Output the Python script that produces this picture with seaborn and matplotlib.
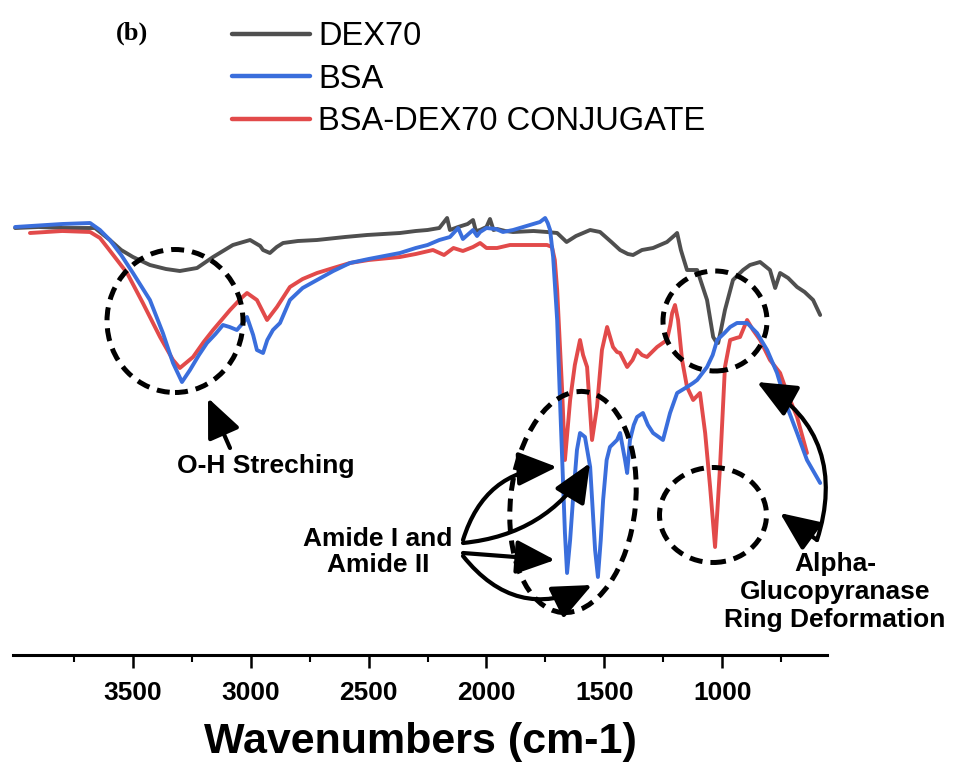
import numpy as np
import pandas as pd
import matplotlib
matplotlib.use("Agg")
import matplotlib.pyplot as plt
import seaborn as sns
from matplotlib.patches import Ellipse, FancyArrowPatch
from matplotlib.path import Path
from matplotlib.lines import Line2D

# ---------------- data (wavenumber cm-1, transmittance in arbitrary units) ----------------
labels = ["DEX70", "BSA", "BSA-DEX70 CONJUGATE"]
colors = ["#4f4f4f", "#3a6edc", "#e24a4a"]

dex_wn = [4000, 3900, 3800, 3661, 3598, 3550, 3500, 3428, 3360, 3301, 3228, 3160, 3076, 3003,
          2960, 2948, 2919, 2890, 2863, 2800, 2719, 2600, 2507, 2367, 2300, 2250, 2200, 2167,
          2155, 2120, 2080, 2057, 2045, 2027, 2000, 1985, 1970, 1955, 1920, 1887, 1800, 1743,
          1700, 1660, 1620, 1560, 1518, 1470, 1433, 1400, 1378, 1340, 1293, 1234, 1200, 1191,
          1175, 1166, 1149, 1106, 1064, 1038, 1025, 1017, 1005, 988, 954, 911, 882, 839, 797,
          775, 754, 720, 682, 650, 614, 584]
dex_t = [432, 433, 432, 432, 420, 410, 403, 395, 391, 389, 392, 403, 415, 420,
         414, 410, 407, 413, 417, 419, 420, 423, 425, 427, 429, 430, 432, 442,
         430, 433, 436, 440, 429, 430, 433, 441, 430, 431, 429, 428, 429, 428,
         427, 418, 424, 430, 428, 418, 410, 406, 405, 410, 412, 418, 425, 427,
         410, 403, 390, 390, 360, 323, 318, 317, 330, 350, 380, 390, 395, 398, 390,
         372, 387, 382, 373, 368, 360, 345]

bsa_wn = [4000, 3800, 3682, 3640, 3598, 3550, 3500, 3428, 3373, 3330, 3292, 3258, 3220, 3186,
          3150, 3118, 3090, 3059, 3030, 3016, 2990, 2974, 2948, 2930, 2906, 2876, 2834, 2780,
          2719, 2650, 2579, 2500, 2367, 2300, 2250, 2200, 2155, 2120, 2100, 2057, 2040, 2027,
          2000, 1960, 1930, 1887, 1830, 1773, 1751, 1740, 1730, 1717, 1700, 1688, 1667, 1658,
          1645, 1633, 1616, 1603, 1582, 1560, 1539, 1527, 1515, 1505, 1490, 1476, 1446, 1433,
          1412, 1403, 1391, 1375, 1361, 1336, 1315, 1293, 1251, 1221, 1191, 1149, 1123, 1106,
          1064, 1040, 1021, 990, 966, 937, 894, 852, 809, 767, 724, 682, 640, 584]
bsa_t = [433, 436, 437, 430, 420, 405, 387, 360, 327, 297, 278, 290, 305, 317,
         326, 335, 333, 330, 338, 343, 325, 310, 307, 320, 330, 337, 360, 372,
         380, 389, 397, 401, 407, 412, 415, 420, 423, 432, 421, 430, 424, 428,
         432, 431, 428, 430, 434, 438, 442, 437, 430, 403, 340, 260, 127, 87,
         120, 160, 210, 227, 223, 193, 110, 83, 120, 160, 200, 213, 220, 227,
         200, 187, 220, 235, 243, 247, 235, 227, 220, 247, 267, 273, 277, 280,
         293, 305, 320, 327, 333, 337, 337, 327, 310, 287, 253, 227, 200, 177]

conj_wn = [3937, 3800, 3682, 3640, 3610, 3525, 3458, 3385, 3330, 3301, 3245, 3200, 3160, 3088,
           3040, 3016, 2974, 2931, 2889, 2834, 2780, 2719, 2650, 2579, 2500, 2367, 2300, 2227,
           2180, 2140, 2100, 2057, 2027, 2000, 1955, 1900, 1800, 1743, 1722, 1710, 1700, 1679,
           1667, 1645, 1625, 1603, 1590, 1573, 1552, 1531, 1510, 1488, 1463, 1446, 1433, 1403,
           1380, 1361, 1340, 1319, 1276, 1234, 1220, 1212, 1200, 1187, 1170, 1149, 1123, 1094,
           1072, 1051, 1030, 1020, 1009, 988, 966, 940, 924, 894, 869, 839, 797, 754, 724,
           682, 640]
conj_t = [427, 429, 428, 422, 413, 387, 357, 323, 300, 292, 303, 318, 330, 350,
          362, 367, 360, 340, 353, 373, 381, 387, 392, 397, 400, 403, 406, 410,
          405, 412, 409, 413, 417, 412, 412, 415, 415, 415, 413, 400, 370, 270,
          200, 260, 295, 320, 305, 293, 220, 253, 310, 333, 313, 308, 307, 293,
          300, 310, 305, 303, 313, 320, 335, 347, 355, 340, 300, 273, 260, 267,
          227, 173, 113, 150, 193, 293, 320, 322, 323, 340, 330, 320, 300, 287, 267,
          243, 207]

major_ticks = [3500, 3000, 2500, 2000, 1500, 1000]
minor_ticks = [3750, 3250, 2750, 2250, 1750, 1250, 750]

df = pd.concat([
    pd.DataFrame({"wn": dex_wn, "T": dex_t, "sample": labels[0]}),
    pd.DataFrame({"wn": bsa_wn, "T": bsa_t, "sample": labels[1]}),
    pd.DataFrame({"wn": conj_wn, "T": conj_t, "sample": labels[2]}),
], ignore_index=True)

# ---------------- style ----------------
sns.set_style("white")
plt.rcParams["font.family"] = ["Liberation Sans", "DejaVu Sans"]
plt.rcParams["text.color"] = "black"
plt.rcParams["axes.labelcolor"] = "black"
plt.rcParams["xtick.color"] = "black"

W, H = 954, 769
fig = plt.figure(figsize=(W / 100, H / 100), dpi=100)
ax = fig.add_axes([13 / W, 1 - 655 / H, (827 - 13) / W, (655 - 200) / H])

def P(x, y):
    """pixel position (from top-left) -> inches for fig.dpi_scale_trans"""
    return (x / 100.0, (H - y) / 100.0)

# draw order: DEX70, conjugate, BSA on top
for name, col in [(labels[0], colors[0]), (labels[2], colors[2]), (labels[1], colors[1])]:
    sns.lineplot(data=df[df["sample"] == name], x="wn", y="T", color=col, lw=2.8,
                 estimator=None, sort=False, ax=ax, legend=False)

ax.set_xlim(4009, 555)
ax.set_ylim(5, 460)
ax.set_yticks([])
ax.set_ylabel("")
for s in ["left", "right", "top"]:
    ax.spines[s].set_visible(False)
ax.spines["bottom"].set_linewidth(2.2)
ax.spines["bottom"].set_color("black")
ax.set_xticks(major_ticks)
ax.set_xticks(minor_ticks, minor=True)
ax.tick_params(axis="x", which="major", length=9, width=1.8, direction="out",
               labelsize=19, pad=10, colors="black", bottom=True)
ax.tick_params(axis="x", which="minor", length=5, width=1.5, direction="out", bottom=True)
for t in ax.get_xticklabels():
    t.set_fontweight("bold")
ax.set_xlabel("Wavenumbers (cm-1)", fontsize=31, fontweight="bold", labelpad=12,
              color="black")

# ---------------- legend ----------------
handles = [Line2D([], [], color=c, lw=3.2) for c in colors]
fig.legend(handles, labels, loc="upper left", bbox_to_anchor=(232 / W, 1 - 21 / H),
           frameon=False, fontsize=23.5, handlelength=2.4, handletextpad=0.25,
           labelspacing=0.36, borderpad=0, borderaxespad=0, labelcolor="black")
fig.text(132 / W, 1 - 33 / H, "(b)", family=["Liberation Serif", "DejaVu Serif"],
         fontweight="bold", fontsize=19, ha="center", va="center", color="black")

# ---------------- annotations ----------------
tr = fig.dpi_scale_trans
dash = (0, (2.6, 1.6))
for (cx, cy, w, h, ang) in [(175, 321, 136, 143, 0), (573, 502, 125, 222, -6),
                            (715, 321, 104, 100, 0), (713, 515, 107, 95, 0)]:
    e = Ellipse(P(cx, cy), w / 100, h / 100, angle=ang, transform=tr, fill=False,
                ec="black", lw=3.6, ls=dash)
    fig.add_artist(e)

astyle = "-|>,head_length=1.6,head_width=0.7"
def arrow(p0, p1, rad=0.0):
    a = FancyArrowPatch(P(*p0), P(*p1), transform=tr, arrowstyle=astyle,
                        connectionstyle=f"arc3,rad={rad}", mutation_scale=15,
                        lw=3.0, color="black", shrinkA=0, shrinkB=0)
    fig.add_artist(a)

arrow((230, 448), (208, 398))
arrow((463, 540), (557, 467), -0.35)
arrow((463, 543), (590, 463), 0.25)
arrow((463, 553), (555, 560), 0.0)
arrow((463, 556), (592, 585), 0.4)
arrow((817, 540), (780, 513), 0.0)
verts = [P(817, 540), P(838, 475), P(822, 418), P(757, 382)]
pth = Path(verts, [Path.MOVETO, Path.CURVE4, Path.CURVE4, Path.CURVE4])
fig.add_artist(FancyArrowPatch(path=pth, transform=tr, arrowstyle=astyle,
                               mutation_scale=15, lw=3.0, color="black"))

tkw = dict(fontsize=19, fontweight="bold", ha="center", va="center", color="black",
           multialignment="center", linespacing=1.1, transform=tr)
fig.text(*P(266, 466), "O-H Streching", **tkw)
fig.text(*P(378, 552), "Amide I and\nAmide II", **tkw)
tkw["linespacing"] = 1.22
fig.text(*P(835, 592), "Alpha-\nGlucopyranase\nRing Deformation", **tkw)

fig.savefig("out.png", dpi=100)
